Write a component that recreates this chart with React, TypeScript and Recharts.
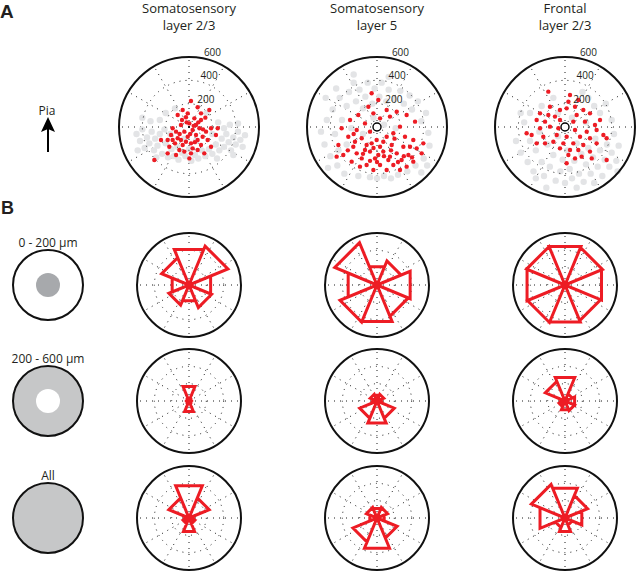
import React from "react";
import { ScatterChart, Scatter, XAxis, YAxis, ReferenceLine, ReferenceDot } from "recharts";

// column titles and row labels
const columnTitles = [
  ["Somatosensory", "layer 2/3"],
  ["Somatosensory", "layer 5"],
  ["Frontal", "layer 2/3"],
];
const distanceBins = ["0 - 200 µm", "200 - 600 µm", "All"];
const ringTicks = [200, 400, 600];
const spokeAngles = [0, 30, 60, 90, 120, 150, 180, 210, 240, 270, 300, 330];
const binAngles = [0, 45, 90, 135, 180, 225, 270, 315]; // E, NE, N, NW, W, SW, S, SE

// cell positions (µm from the recorded cell), panel A
const ss23Red = [
  [17, 223], [-54, 146], [74, 169], [103, 117], [174, 146], [-97, 103], [-26, 83], [46, 74], [103, 60], [3, 31],
  [-69, 17], [-140, -11], [-111, -40], [-154, -69], [-40, -40], [31, -26], [89, -11], [146, -40], [189, -11], [246, -11],
  [-183, -111], [-97, -97], [-11, -83], [60, -69], [117, -83], [160, -111], [231, -69], [-240, -111], [-169, -169], [-54, -154],
  [17, -140], [103, -154], [189, -169], [-40, -211], [17, -226], [74, -197], [-111, -240], [-183, -226], [3, -269], [-297, -283],
  [131, -226], [-83, -197], [-11, 117], [60, 17], [-69, -111], [-140, -111], [74, -111], [31, -183], [-26, -126], [-20, 40],
  [40, 10], [-80, -60], [120, -20], [10, -60], [-120, -140], [50, -130], [-60, 60], [140, 80], [80, 40],
];
const ss23Gray = [
  [-450, -60], [-420, -120], [-400, -20], [-380, -180], [-360, -90], [-340, -140], [-320, -40], [-300, -200], [-290, -100], [-270, -160],
  [-250, -60], [-230, -230], [-210, -20], [-200, -140], [-180, -260], [-160, -60], [-150, -190], [-130, -250], [-100, -170], [-90, -280],
  [-60, -220], [-30, -250], [0, -190], [20, -290], [50, -240], [80, -270], [110, -200], [140, -250], [170, -190], [200, -230],
  [230, -150], [260, -200], [280, -100], [300, -170], [320, -60], [340, -130], [360, -200], [380, -90], [400, -150], [420, -40],
  [440, -110], [460, -170], [480, -70], [300, -10], [350, 20], [420, 30], [250, 40], [-250, 60], [-330, 50], [-400, 80],
  [-200, 120], [150, 120], [-120, 160], [60, -120], [-40, -100], [200, -60], [-280, -260], [240, -270], [380, -240], [-440, -200],
];
const ss5Red = [
  [-46, 289], [11, 231], [-74, 174], [83, 146], [-160, 103], [-31, 117], [169, 131], [111, 89], [26, 74], [-231, 60],
  [-103, 31], [254, 103], [326, 46], [-303, -11], [-174, -26], [-60, -40], [197, 3], [140, -54], [-246, -83], [-131, -97],
  [-3, -111], [83, -83], [240, -83], [311, -111], [-331, -154], [-203, -169], [-89, -154], [26, -169], [126, -154], [226, -169],
  [340, -183], [-289, -240], [-174, -226], [-60, -211], [54, -211], [169, -226], [269, -240], [383, -226], [-131, -269], [-17, -269],
  [97, -283], [211, -283], [311, -297], [-89, -326], [26, -326], [140, -326], [254, -340], [-31, -369], [83, -369], [-217, -297],
  [-346, -254], [397, -140], [-146, -340], [197, -369], [11, -240], [-46, -140], [111, -254], [-103, -197], [283, -169], [-189, -126],
  [54, -126], [-250, -200], [0, -300], [180, -300], [-60, -290], [120, -200], [230, -250], [60, -250], [-120, -230], [300, -260],
  [-30, -180], [150, -100], [-200, -60],
];
const ss5Gray = [
  [-480, -40], [-450, -150], [-430, 60], [-400, -250], [-380, 150], [-360, -60], [-340, -330], [-320, 250], [-300, 60], [-280, -400],
  [-260, 180], [-240, 300], [-220, -10], [-200, 380], [-180, 220], [-160, -420], [-150, 320], [-120, 160], [-100, 260], [-80, 380],
  [-60, -430], [-40, 200], [-20, 330], [0, -440], [20, 260], [40, 380], [60, -420], [80, 220], [100, 320], [120, -440],
  [150, 240], [180, -410], [200, 310], [230, 200], [260, -380], [280, 270], [300, 150], [330, -330], [350, 220], [380, 50],
  [400, -270], [420, 120], [440, -50], [450, -160], [-440, 250], [-420, -350], [380, -390], [-260, -150], [-120, -60], [60, 20],
  [160, -10], [-30, 80], [-330, -200], [430, -330], [-200, 450], [100, 430], [-350, 330],
];
const fr23Red = [
  [-143, 303], [43, 274], [29, 217], [114, 231], [86, 174], [-43, 146], [-214, 117], [-143, 103], [-86, 89], [100, 103],
  [157, 146], [214, 117], [-243, 60], [-171, 46], [-43, 60], [71, 46], [171, 46], [257, 17], [-214, -11], [-129, 3],
  [86, -26], [186, -40], [271, -26], [-286, -69], [-186, -83], [-71, -69], [14, -83], [129, -83], [214, -97], [329, -69],
  [-100, -126], [-14, -140], [71, -140], [157, -154], [271, -140], [-43, -183], [43, -197], [114, -197], [214, -211], [357, -97],
  [29, -240], [86, -269], [14, -311], [357, -283], [-129, 174], [-329, -54], [-171, -140], [-243, -140], [-57, -11], [14, 160],
  [300, 60], [143, -254], [229, -269],
];
const fr23Gray = [
  [-420, -120], [-380, -220], [-350, 40], [-320, -300], [-300, -120], [-270, -380], [-250, -200], [-220, -40], [-200, -300], [-180, -420],
  [-150, -150], [-130, -340], [-100, -240], [-80, -460], [-60, -80], [-40, -380], [-20, -280], [0, -480], [20, -200], [40, -360],
  [60, -440], [80, -290], [100, -140], [120, -400], [140, -230], [160, -470], [180, -320], [200, -180], [220, -400], [240, -260],
  [260, -100], [280, -340], [300, -200], [320, -420], [340, -280], [360, -150], [380, -340], [400, -220], [420, -60], [440, -290],
  [460, -160], [200, 250], [250, 180], [300, 120], [350, 200], [150, 300], [-100, 250], [-200, 180], [-300, 120], [400, 60],
  [-60, 120], [60, 80], [180, 40], [-160, -520], [100, -520], [-380, 120], [450, -380], [250, -480], [-250, -440],
];

// rose values per direction bin (fraction of outer ring), panel B
const ss23Near = [0.45, 0.81, 0.74, 0.57, 0.35, 0.42, 0.33, 0.47];
const ss5Near = [0.69, 0.5, 0.38, 0.88, 0.6, 0.77, 0.76, 0.65];
const fr23Near = [0.76, 0.78, 0.8, 0.8, 0.79, 0.78, 0.77, 0.74];
const ss23Far = [0.04, 0.04, 0.3, 0.04, 0.04, 0.04, 0.22, 0.04];
const ss5Far = [0.1, 0.14, 0.12, 0.14, 0.1, 0.36, 0.46, 0.36];
const fr23Far = [0.2, 0.15, 0.49, 0.41, 0.1, 0.12, 0.18, 0.2];
const ss23All = [0.1, 0.42, 0.67, 0.42, 0.1, 0.12, 0.28, 0.12];
const ss5All = [0.15, 0.22, 0.2, 0.22, 0.15, 0.5, 0.63, 0.42];
const fr23All = [0.35, 0.47, 0.62, 0.7, 0.52, 0.2, 0.28, 0.15];

const colX = [189, 377, 565];
const rowY = [285, 401, 518];
const RED = "#ed1c24";
const deg = Math.PI / 180;

const toPts = (arr: number[][]) => arr.map(([x, y]) => ({ x, y }));

// MATLAB-style rose: each bin is a wedge 0 -> (r, a-22.5) -> (r, a+22.5) -> 0
function rosePoints(vals: number[]) {
  const pts: { x: number; y: number }[] = [];
  vals.forEach((r, i) => {
    const a1 = (binAngles[i] - 22.5) * deg;
    const a2 = (binAngles[i] + 22.5) * deg;
    pts.push({ x: 0, y: 0 }, { x: r * Math.cos(a1), y: r * Math.sin(a1) }, { x: r * Math.cos(a2), y: r * Math.sin(a2) });
  });
  pts.push({ x: 0, y: 0 });
  return pts;
}

const dotShape = (fill: string, r: number) => (p: any) => <circle cx={p.cx} cy={p.cy} r={r} fill={fill} />;

function PolarPanel({
  cx, cy, size, radius, maxVal, rings, gray, red, rose, center, labels,
}: {
  cx: number; cy: number; size: number; radius: number; maxVal: number; rings: number[];
  gray?: number[][]; red?: number[][]; rose?: number[]; center?: boolean; labels?: boolean;
}) {
  const half = (maxVal * size) / 2 / radius;
  const px = radius / maxVal;
  const labelData = ringTicks.map((t) => ({
    x: t * 1.017 * Math.cos(82 * deg),
    y: t * 1.017 * Math.sin(82 * deg),
    label: String(t),
  }));
  return (
    <div style={{ position: "absolute", left: cx - size / 2, top: cy - size / 2, width: size, height: size }}>
      <ScatterChart width={size} height={size} margin={{ top: 0, right: 0, bottom: 0, left: 0 }}>
        <XAxis type="number" dataKey="x" domain={[-half, half]} hide />
        <YAxis type="number" dataKey="y" domain={[-half, half]} hide />
        {gray && <Scatter data={toPts(gray)} isAnimationActive={false} shape={dotShape("#e3e4e6", 3.2)} />}
        {rings.map((t) => (
          <ReferenceDot key={t} x={0} y={0} r={t * px} fill="none" stroke="#1a1a1a" strokeWidth={1} strokeDasharray="1 5" />
        ))}
        {spokeAngles.map((a) => (
          <ReferenceLine
            key={a}
            segment={[{ x: 0, y: 0 }, { x: maxVal * Math.cos(a * deg), y: maxVal * Math.sin(a * deg) }]}
            stroke="#1a1a1a"
            strokeWidth={1}
            strokeDasharray="1 5"
          />
        ))}
        <ReferenceDot x={0} y={0} r={radius} fill="none" stroke="#111" strokeWidth={2} />
        {red && <Scatter data={toPts(red)} isAnimationActive={false} shape={dotShape(RED, 2.2)} />}
        {rose && (
          <Scatter
            data={rosePoints(rose)}
            isAnimationActive={false}
            line={{ stroke: RED, strokeWidth: 3, strokeLinejoin: "miter" }}
            shape={() => <g />}
          />
        )}
        {center && <ReferenceDot x={0} y={0} r={4} fill="#fff" stroke="#000" strokeWidth={1.4} />}
        {labels && (
          <Scatter
            data={labelData}
            isAnimationActive={false}
            shape={(p: any) => (
              <text x={p.cx + 5} y={p.cy - 1} fontSize={10} fill="#231f20" fontFamily="'Open Sans', sans-serif">
                {p.payload.label}
              </text>
            )}
          />
        )}
      </ScatterChart>
    </div>
  );
}

export default function App() {
  const font = "'Open Sans', sans-serif";
  const bold = "'Liberation Sans', Arial, sans-serif";
  const roses = [
    [ss23Near, ss5Near, fr23Near],
    [ss23Far, ss5Far, fr23Far],
    [ss23All, ss5All, fr23All],
  ];
  const topData = [
    { gray: ss23Gray, red: ss23Red, center: false },
    { gray: ss5Gray, red: ss5Red, center: true },
    { gray: fr23Gray, red: fr23Red, center: true },
  ];
  return (
    <div style={{ position: "absolute", left: 0, top: 0, width: 640, height: 572, background: "#fff", overflow: "hidden" }}>
      <svg width={640} height={572} style={{ position: "absolute", left: 0, top: 0 }}>
        <text x={0} y={18} fontSize={19} fontWeight={700} fontFamily={bold} fill="#231f20">A</text>
        <text x={1} y={214} fontSize={18} fontWeight={700} fontFamily={bold} fill="#231f20">B</text>
        {columnTitles.map(([l1, l2], i) => (
          <g key={i} fontFamily={font} fontSize={13} fill="#231f20" textAnchor="middle">
            <text x={colX[i]} y={13}>{l1}</text>
            <text x={colX[i]} y={30}>{l2}</text>
          </g>
        ))}
        <text x={47} y={115} textAnchor="middle" fontSize={12} fontFamily={font} fill="#231f20">Pia</text>
        <line x1={48} y1={152} x2={48} y2={128} stroke="#000" strokeWidth={2} />
        <polygon points="41,132 48,117 55,132 48,129" fill="#000" />
        {distanceBins.map((label, i) => (
          <text key={label} x={48} y={rowY[i] - 38} textAnchor="middle" fontSize={12} fontFamily={font} fill="#231f20">
            {label}
          </text>
        ))}
        <circle cx={48} cy={rowY[0]} r={35} fill="#fff" stroke="#111" strokeWidth={2} />
        <circle cx={48} cy={rowY[0]} r={12} fill="#a7a9ac" />
        <circle cx={48} cy={rowY[1]} r={35} fill="#c6c7c8" stroke="#111" strokeWidth={2} />
        <circle cx={48} cy={rowY[1]} r={12} fill="#fff" />
        <circle cx={48} cy={rowY[2]} r={35} fill="#c6c7c8" stroke="#111" strokeWidth={2} />
      </svg>
      {topData.map((d, i) => (
        <PolarPanel
          key={"a" + i}
          cx={colX[i]}
          cy={127}
          size={172}
          radius={70}
          maxVal={600}
          rings={[200, 400]}
          gray={d.gray}
          red={d.red}
          center={d.center}
          labels
        />
      ))}
      {roses.map((row, r) =>
        row.map((vals, c) => (
          <PolarPanel
            key={"b" + r + c}
            cx={colX[c]}
            cy={rowY[r]}
            size={120}
            radius={52}
            maxVal={1}
            rings={[1 / 3, 2 / 3]}
            rose={vals}
          />
        ))
      )}
    </div>
  );
}
